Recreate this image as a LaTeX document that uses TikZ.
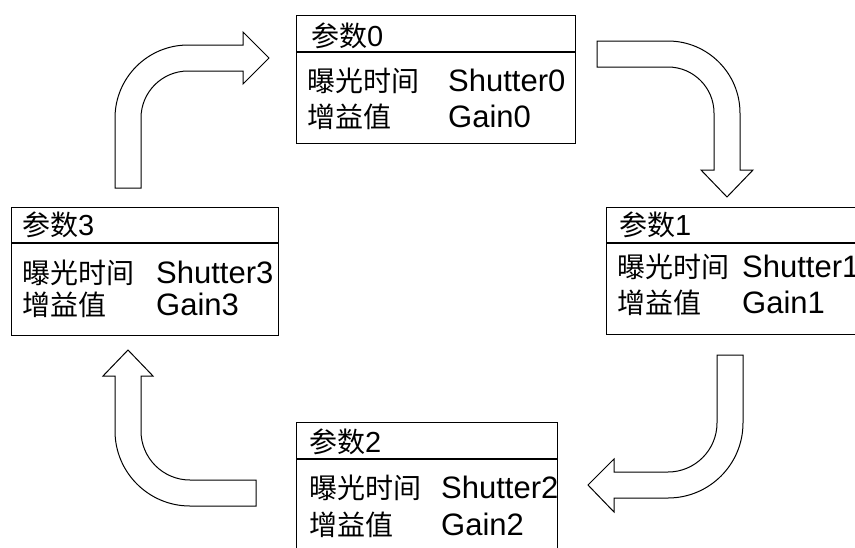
\documentclass[tikz,border=0pt]{standalone}
\usepackage{fontspec}
\setmainfont{Liberation Sans}
\newfontfamily\cjk{Noto Sans CJK SC}
\begin{document}
\begin{tikzpicture}[x=1pt,y=-1pt,
  box/.style={draw, line width=1.3pt, rectangle, inner sep=0pt, anchor=north west},
  sep/.style={line width=1.3pt},
  blockarrow/.style={draw, line width=1pt, fill=white, line join=miter},
  cj/.style={inner sep=0pt, anchor=base west, font=\cjk\fontsize{28}{34}\selectfont},
  lt/.style={inner sep=0pt, anchor=base west, font=\fontsize{31}{36}\selectfont},
  hd/.style={inner sep=0pt, anchor=base west, font=\fontsize{29}{34}\selectfont}]
\useasboundingbox (0,0) rectangle (855,547);
\clip (0,0) rectangle (855,547);
\fill[white] (0,0) rectangle (855,547);

% boxes
\node[box, minimum width=279pt, minimum height=128pt] (b0) at (296,15) {};
\node[box, minimum width=264pt, minimum height=127pt] (b1) at (606,207) {};
\node[box, minimum width=261pt, minimum height=140pt] (b2) at (296,422) {};
\node[box, minimum width=267pt, minimum height=128pt] (b3) at (11,207) {};
\draw[sep] ([yshift=-37pt]b0.north west) -- ([yshift=-37pt]b0.north east);
\draw[sep] ([yshift=-36pt]b1.north west) -- ([yshift=-36pt]b1.north east);
\draw[sep] ([yshift=-37pt]b2.north west) -- ([yshift=-37pt]b2.north east);
\draw[sep] ([yshift=-36pt]b3.north west) -- ([yshift=-36pt]b3.north east);

% box 0 text
\node[hd] (h0) at (311,46) {{\cjk\fontsize{28}{34}\selectfont 参数}0};
\node[cj] (c0a) at (307,91) {曝光时间};
\node[cj] (c0b) at (307,127) {增益值};
\node[lt] (s0) at (448,91) {Shutter0};
\node[lt] (g0) at (448,127) {Gain0};

% box 1 text
\node[hd] (h1) at (619,235) {{\cjk\fontsize{28}{34}\selectfont 参数}1};
\node[cj] (c1a) at (617,277) {曝光时间};
\node[cj] (c1b) at (617,313) {增益值};
\node[lt] (s1) at (742,277) {Shutter1};
\node[lt] (g1) at (742,313) {Gain1};

% box 2 text
\node[hd] (h2) at (309,452) {{\cjk\fontsize{28}{34}\selectfont 参数}2};
\node[cj] (c2a) at (309,498) {曝光时间};
\node[cj] (c2b) at (309,535) {增益值};
\node[lt] (s2) at (441,498) {Shutter2};
\node[lt] (g2) at (441,535) {Gain2};

% box 3 text
\node[hd] (h3) at (22,235) {{\cjk\fontsize{28}{34}\selectfont 参数}3};
\node[cj] (c3a) at (22,283) {曝光时间};
\node[cj] (c3b) at (22,315) {增益值};
\node[lt] (s3) at (156,283) {Shutter3};
\node[lt] (g3) at (156,315) {Gain3};

% arrow A (3 -> 0)
\draw[blockarrow] (115,188) -- (115,118) .. controls (115,77.7) and (147.7,45) .. (188,45)
  -- (243,45) -- (243,32) -- (269,58) -- (243,84) -- (243,71) -- (188,71)
  .. controls (162.1,71) and (141,92.1) .. (141,118) -- (141,188) -- cycle;

% arrow B (0 -> 1)
\draw[blockarrow] (597,41) -- (668,41) .. controls (707.7,41) and (740,73.3) .. (740,113)
  -- (740,170) -- (753,170) -- (727,197) -- (701,170) -- (714,170) -- (714,113)
  .. controls (714,87.6) and (693.4,67) .. (668,67) -- (597,67) -- cycle;

% arrow C (1 -> 2)
\draw[blockarrow] (717,355) -- (743,355) -- (743,423) .. controls (743,464.4) and (709.4,498) .. (668,498)
  -- (614,498) -- (614,512) -- (588,485) -- (614,459) -- (614,472) -- (668,472)
  .. controls (695,472) and (717,450) .. (717,423) -- cycle;

% arrow D (2 -> 3)
\draw[blockarrow] (256,506) -- (190,506) .. controls (148.6,506) and (115,472.4) .. (115,431)
  -- (115,376) -- (103,376) -- (128,350) -- (153,376) -- (141,376) -- (141,431)
  .. controls (141,458) and (163,480) .. (190,480) -- (256,480) -- cycle;
\end{tikzpicture}
\end{document}
